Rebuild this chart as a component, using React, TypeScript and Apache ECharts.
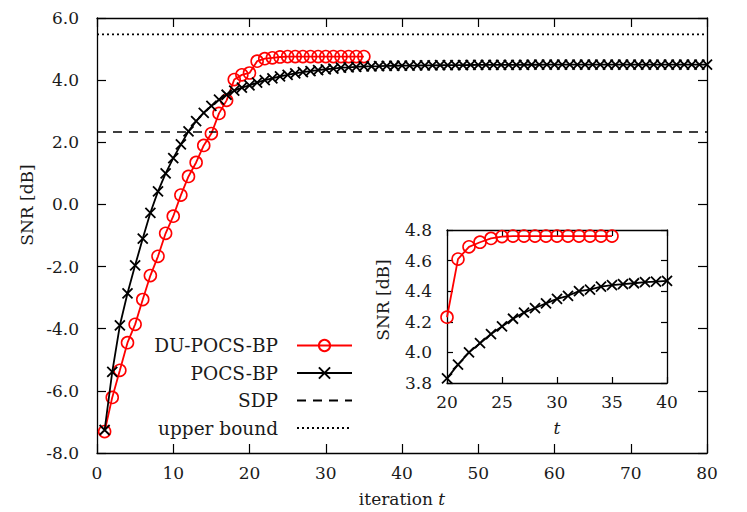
import React, { useEffect, useRef } from "react";
import * as echarts from "echarts";

// DU-POCS-BP, t = 1..35
const duPocsBp = [
  -7.31, -6.21, -5.34, -4.45, -3.86, -3.06, -2.29, -1.67, -0.93, -0.38,
  0.3, 0.9, 1.35, 1.9, 2.28, 2.93, 3.35, 4.02, 4.17, 4.23,
  4.61, 4.69, 4.72, 4.745, 4.757, 4.76, 4.76, 4.76, 4.76, 4.76,
  4.76, 4.76, 4.76, 4.76, 4.76,
];
// POCS-BP, t = 1..80
const pocsBp = [
  -7.26, -5.39, -3.89, -2.86, -1.96, -1.1, -0.27, 0.42, 1.0, 1.49,
  1.93, 2.35, 2.68, 2.95, 3.17, 3.37, 3.53, 3.66, 3.76, 3.83,
  3.92, 4.0, 4.06, 4.12, 4.17, 4.22, 4.26, 4.29, 4.32, 4.35,
  4.37, 4.4, 4.41, 4.43, 4.44, 4.446, 4.452, 4.459, 4.463, 4.467,
  4.47, 4.472, 4.475, 4.478, 4.48, 4.482, 4.484, 4.486, 4.488, 4.489,
  4.49, 4.491, 4.492, 4.493, 4.494, 4.495, 4.496, 4.496, 4.497, 4.497,
  4.498, 4.498, 4.498, 4.499, 4.499, 4.499, 4.499, 4.5, 4.5, 4.5,
  4.5, 4.5, 4.5, 4.5, 4.5, 4.5, 4.5, 4.5, 4.5, 4.5,
];
const sdpLevel = 2.33;
const upperBoundLevel = 5.47;

const mainX = { min: 0, max: 80, interval: 10 };
const mainY = { min: -8, max: 6, interval: 2 };
const insetX = { min: 20, max: 40, interval: 5 };
const insetY = { min: 3.8, max: 4.8, interval: 0.2 };

const FONT = "DejaVu Serif";
const TXT = "#1a1a1a";

const toPairs = (arr: number[]) => arr.map((v, i) => [i + 1, v]);

export default function App() {
  const ref = useRef<HTMLDivElement>(null);
  useEffect(() => {
    if (!ref.current) return;
    const chart = echarts.init(ref.current, undefined, { renderer: "svg" });
    const redPts = toPairs(duPocsBp);
    const blackPts = toPairs(pocsBp);
    const redInset = redPts.filter((p) => p[0] >= insetX.min && p[0] <= insetX.max);
    const blackInset = blackPts.filter((p) => p[0] >= insetX.min && p[0] <= insetX.max);
    const crossPath = "path://M0 0L10 10M10 0L0 10";

    const axisLine = { show: true, onZero: false, lineStyle: { color: "#000", width: 1.3 } };
    const label = (fmt: (v: number) => string, margin: number) => ({
      show: true,
      fontFamily: FONT,
      fontSize: 17,
      color: TXT,
      margin,
      formatter: fmt,
    });
    const tick = (len: number) => ({ show: true, inside: true, length: len, lineStyle: { color: "#000", width: 1.2 } });

    const redSeries = (xi: number, yi: number, data: number[][]) => ({
      name: "DU-POCS-BP",
      type: "line",
      xAxisIndex: xi,
      yAxisIndex: yi,
      data,
      symbol: "circle",
      symbolSize: 12,
      lineStyle: { color: "#ff0000", width: 1.8 },
      itemStyle: { color: "rgba(255,255,255,0)", borderColor: "#ff0000", borderWidth: 1.6 },
      z: 3,
    });
    const blackSeries = (xi: number, yi: number, data: number[][]) => ({
      name: "POCS-BP",
      type: "line",
      xAxisIndex: xi,
      yAxisIndex: yi,
      data,
      symbol: crossPath,
      symbolSize: 10,
      lineStyle: { color: "#000", width: 1.8 },
      itemStyle: { color: "rgba(0,0,0,0)", borderColor: "#000", borderWidth: 1.8 },
      z: 4,
    });

    const option: any = {
      animation: false,
      backgroundColor: "#fff",
      grid: [
        { left: 97, right: 40, top: 18, bottom: 58, containLabel: false },
        {
          left: 447, top: 230, width: 220, height: 153, containLabel: false,
          show: true, backgroundColor: "#fff", borderWidth: 0, z: 5,
        },
      ],
      xAxis: [
        {
          type: "value", gridIndex: 0, position: "bottom", ...mainX,
          axisLine, axisTick: tick(9), splitLine: { show: false },
          axisLabel: label((v) => String(v), 11),
          name: "{a|iteration }{b|t}", nameLocation: "middle", nameGap: 37,
          nameTextStyle: {
            rich: {
              a: { fontFamily: FONT, fontSize: 17, color: TXT },
              b: { fontFamily: FONT, fontSize: 17, color: TXT, fontStyle: "italic" },
            },
          },
        },
        {
          type: "value", gridIndex: 0, position: "top", ...mainX,
          axisLine, axisTick: tick(9), splitLine: { show: false }, axisLabel: { show: false },
        },
        {
          type: "value", gridIndex: 1, position: "bottom", ...insetX,
          axisLine, axisTick: tick(6), splitLine: { show: false },
          axisLabel: label((v) => String(v), 10), z: 6,
        },
        {
          type: "value", gridIndex: 1, position: "top", ...insetX,
          axisLine, axisTick: tick(6), splitLine: { show: false }, axisLabel: { show: false }, z: 6,
        },
      ],
      yAxis: [
        {
          type: "value", gridIndex: 0, position: "left", ...mainY,
          axisLine, axisTick: tick(9), splitLine: { show: false },
          axisLabel: label((v) => v.toFixed(1), 18),
        },
        {
          type: "value", gridIndex: 0, position: "right", ...mainY,
          axisLine, axisTick: tick(9), splitLine: { show: false }, axisLabel: { show: false },
        },
        {
          type: "value", gridIndex: 1, position: "left", ...insetY,
          axisLine, axisTick: tick(6), splitLine: { show: false },
          axisLabel: label((v) => v.toFixed(1), 15), z: 6,
        },
        {
          type: "value", gridIndex: 1, position: "right", ...insetY,
          axisLine, axisTick: tick(6), splitLine: { show: false }, axisLabel: { show: false }, z: 6,
        },
      ],
      legend: {
        data: [
          { name: "DU-POCS-BP" },
          { name: "POCS-BP" },
          { name: "SDP", itemStyle: { opacity: 0 } },
          { name: "upper bound", itemStyle: { opacity: 0 } },
        ],
        orient: "vertical",
        align: "right",
        right: 394,
        top: 336,
        itemWidth: 55,
        itemHeight: 14,
        itemGap: 8.5,
        padding: 0,
        selectedMode: false,
        textStyle: { fontFamily: FONT, fontSize: 18.5, color: TXT, padding: [0, 14, 0, 0] },
      },
      series: [
        redSeries(0, 0, redPts),
        blackSeries(0, 0, blackPts),
        {
          name: "SDP", type: "line", xAxisIndex: 0, yAxisIndex: 0,
          data: [[mainX.min, sdpLevel], [mainX.max, sdpLevel]],
          symbol: "none", lineStyle: { color: "#000", width: 1.6, type: [9, 7] },
          itemStyle: { color: "#000" },
        },
        {
          name: "upper bound", type: "line", xAxisIndex: 0, yAxisIndex: 0,
          data: [[mainX.min, upperBoundLevel], [mainX.max, upperBoundLevel]],
          symbol: "none", lineStyle: { color: "#000", width: 1.8, type: [2, 3] },
          itemStyle: { color: "#000" },
        },
        { ...redSeries(2, 2, redInset), z: 7 },
        { ...blackSeries(2, 2, blackInset), z: 8 },
      ],
      graphic: [
        {
          type: "text", x: 27, y: 205, rotation: Math.PI / 2,
          style: { text: "SNR [dB]", fontFamily: FONT, fontSize: 17, fill: TXT, align: "center", verticalAlign: "middle" },
        },
        {
          type: "text", x: 383, y: 300, rotation: Math.PI / 2, z: 10,
          style: { text: "SNR [dB]", fontFamily: FONT, fontSize: 17, fill: TXT, align: "center", verticalAlign: "middle" },
        },
        {
          type: "text", x: 557, y: 428, z: 10,
          style: { text: "t", fontFamily: FONT, fontSize: 17, fontStyle: "italic", fill: TXT, align: "center", verticalAlign: "middle" },
        },
      ],
    };
    chart.setOption(option);
    return () => chart.dispose();
  }, []);
  return <div ref={ref} style={{ position: "fixed", left: 0, top: 0, width: 747, height: 512 }} />;
}
